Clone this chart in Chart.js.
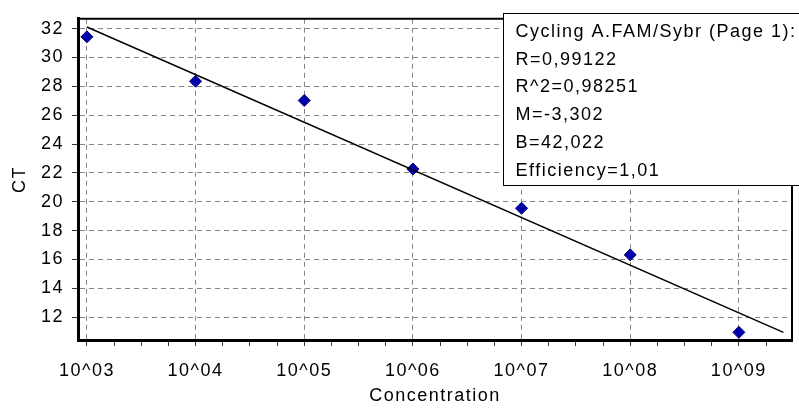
<!DOCTYPE html>
<html>
<head>
<meta charset="utf-8">
<script src="https://cdn.jsdelivr.net/npm/chart.js@4.4.1/dist/chart.umd.min.js"></script>
<style>
  html, body { margin: 0; padding: 0; background: #fff; }
  #wrap { width: 799px; height: 408px; }
</style>
</head>
<body>
<div id="wrap"><canvas id="chartCT"></canvas></div>
<script>
// log10 of the standard concentrations and the CT read for each
const concExp = [3, 4, 5, 6, 7, 8, 9];
const ctValues = [31.43, 28.35, 27.02, 22.27, 19.55, 16.32, 10.95];
const xTickLabels = ["10^03", "10^04", "10^05", "10^06", "10^07", "10^08", "10^09"];

// standard curve CT = M * log10(conc) + B
const fitSlope = -3.302;
const fitIntercept = 42.022;
const fitRange = [3, 9.41];

const statsLines = [
    "Cycling A.FAM/Sybr (Page 1):",
    "R=0,99122",
    "R^2=0,98251",
    "M=-3,302",
    "B=42,022",
    "Efficiency=1,01"
];

const FONT = '"Liberation Sans", Arial, sans-serif';
const SPACING = '1.5px';

const points = concExp.map((x, i) => ({ x: x, y: ctValues[i] }));
const fitLine = fitRange.map(x => ({ x: x, y: fitSlope * x + fitIntercept }));

// old windows font is wider than arial, spread the letters a bit
const letterSpacing = {
    id: 'letterSpacing',
    beforeUpdate(chart) { chart.ctx.letterSpacing = SPACING; },
    beforeDraw(chart) { chart.ctx.letterSpacing = SPACING; }
};

const statsBox = {
    id: 'statsBox',
    afterDraw(chart) {
        const ctx = chart.ctx;
        const { left, top, right, bottom } = chart.chartArea;
        ctx.save();
        // top and right edge of the plot frame
        ctx.strokeStyle = '#000';
        ctx.lineWidth = 2;
        ctx.beginPath();
        ctx.moveTo(left, top);
        ctx.lineTo(right, top);
        ctx.lineTo(right, bottom);
        ctx.stroke();

        const bx = 503.5, by = 13.5, bh = 172;
        ctx.fillStyle = '#fff';
        ctx.fillRect(bx, by, chart.width - bx + 5, bh);
        ctx.lineWidth = 1;
        ctx.strokeRect(bx, by, chart.width - bx + 5, bh);

        ctx.font = '18px ' + FONT;
        ctx.fillStyle = '#000';
        ctx.textBaseline = 'middle';
        ctx.textAlign = 'left';
        ctx.letterSpacing = SPACING;
        statsLines.forEach((t, i) => ctx.fillText(t, bx + 12, 31.9 + i * 27.8));
        ctx.restore();
    }
};

Chart.defaults.font.family = FONT;
Chart.defaults.font.size = 18;
Chart.defaults.color = '#000';

const ctx = document.getElementById('chartCT');

new Chart(ctx, {
    type: 'scatter',
    data: {
        datasets: [{
            label: 'Fit',
            data: fitLine,
            showLine: true,
            borderColor: '#000',
            borderWidth: 1.5,
            pointRadius: 0,
            order: 0
        }, {
            label: 'Standards',
            data: points,
            pointStyle: 'rectRot',
            pointRadius: 6,
            pointHoverRadius: 6,
            backgroundColor: '#0000aa',
            borderColor: '#000078',
            borderWidth: 1,
            order: 1
        }]
    },
    options: {
        responsive: true,
        maintainAspectRatio: false,
        animation: false,
        layout: { padding: { top: 15, right: 4, left: 0, bottom: 0 } },
        plugins: {
            legend: { display: false },
            tooltip: { enabled: false }
        },
        scales: {
            x: {
                type: 'linear',
                min: 2.918,
                max: 9.489,
                afterFit(scale) { scale.height = 68; },
                ticks: {
                    stepSize: 0.25,
                    includeBounds: false,
                    autoSkip: false,
                    maxRotation: 0,
                    minRotation: 0,
                    padding: 14,
                    callback: v => {
                        const i = concExp.indexOf(v);
                        return i >= 0 ? xTickLabels[i] : '';
                    }
                },
                grid: {
                    color: c => Number.isInteger(c.tick.value) ? '#858585' : 'rgba(0,0,0,0)',
                    tickColor: '#333',
                    tickLength: 6
                },
                border: { color: '#000', width: 3, dash: [5, 4] },
                title: {
                    display: true,
                    text: 'Concentration',
                    padding: { top: 0, bottom: 1 }
                }
            },
            y: {
                min: 10.42,
                max: 32.68,
                afterFit(scale) { scale.width = 78; },
                ticks: {
                    stepSize: 2,
                    includeBounds: false,
                    padding: 8
                },
                grid: {
                    color: '#858585',
                    tickColor: '#333',
                    tickLength: 6
                },
                border: { color: '#000', width: 3, dash: [5, 4] },
                title: {
                    display: true,
                    text: 'CT',
                    padding: { top: 9, bottom: 0 }
                }
            }
        }
    },
    plugins: [letterSpacing, statsBox]
});
</script>
</body>
</html>
